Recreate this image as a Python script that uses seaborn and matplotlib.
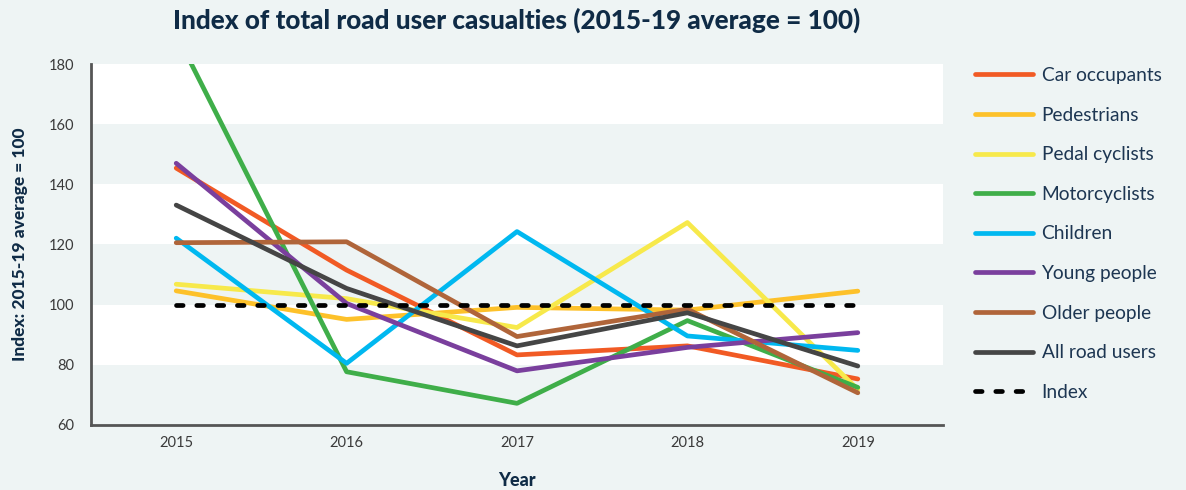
import matplotlib
matplotlib.use("Agg")
import matplotlib.pyplot as plt
import pandas as pd
import seaborn as sns

# Index values (2015-19 average = 100)
years = [2015, 2016, 2017, 2018, 2019]
car_occupants = [145.4, 111.5, 83.3, 86.3, 75.3]
pedestrians = [104.6, 95.1, 99.1, 98.2, 104.5]
pedal_cyclists = [106.8, 102.0, 92.4, 127.3, 71.8]
motorcyclists = [190.0, 77.7, 67.2, 94.7, 72.5]
children = [122.1, 80.5, 124.3, 89.6, 84.8]
young_people = [147.0, 100.4, 78.0, 85.8, 90.7]
older_people = [120.6, 120.9, 89.4, 98.5, 70.7]
all_road_users = [133.1, 105.4, 86.3, 97.3, 79.6]
index_line = [100, 100, 100, 100, 100]

series_names = ["Car occupants", "Pedestrians", "Pedal cyclists", "Motorcyclists",
                "Children", "Young people", "Older people", "All road users", "Index"]
series_values = [car_occupants, pedestrians, pedal_cyclists, motorcyclists,
                 children, young_people, older_people, all_road_users, index_line]
colors = ["#f15a24", "#fdc12a", "#f7e94b", "#3fae49", "#00b8f0",
          "#7a3f9d", "#b0653a", "#454545", "#000000"]

yticks = [60, 80, 100, 120, 140, 160, 180]

BG = "#eef4f4"
NAVY = "#0f2b46"
TEXT = "#1d3652"

sns.set_theme(style="white")
plt.rcParams["font.family"] = ["Lato", "DejaVu Sans"]

df = pd.DataFrame({
    "Year": [y for _ in series_names for y in years],
    "Value": [v for vals in series_values for v in vals],
    "Series": [n for n in series_names for _ in years],
})

fig = plt.figure(figsize=(11.86, 4.90), dpi=100, facecolor=BG)
ax = fig.add_axes([91 / 1186, 1 - 425 / 490, (943 - 91) / 1186, (425 - 64) / 490])
ax.set_facecolor(BG)

# alternating white bands
for lo in (80, 120, 160):
    ax.axhspan(lo, lo + 20, color="white", zorder=0, lw=0)

palette = dict(zip(series_names, colors))
sns.lineplot(data=df, x="Year", y="Value", hue="Series", palette=palette,
             hue_order=series_names, linewidth=3.4, legend=False, ax=ax,
             estimator=None, sort=False)

for line, name in zip(ax.get_lines(), series_names):
    line.set_solid_capstyle("round")
    line.set_solid_joinstyle("round")
    line.set_zorder(3)
    if name == "Index":
        line.set_linestyle((0, (1.4, 2.9)))
        line.set_dash_capstyle("round")
        line.set_zorder(4)

ax.set_xlim(2014.5, 2019.5)
ax.set_ylim(60, 180)

ax.set_yticks(yticks)
ax.set_xticks(years)
ax.set_xticks([2015.5, 2016.5, 2017.5, 2018.5, 2019.5], minor=True)
ax.tick_params(axis="x", which="major", length=0, pad=8, labelsize=10.5, labelcolor="#3a3a3a")
ax.tick_params(axis="x", which="minor", length=7, width=1.5, color="#555555", direction="out")
ax.tick_params(axis="y", length=8, width=1.5, color="#555555", direction="out",
               labelsize=10.5, labelcolor="#3a3a3a", pad=4)

for side in ("top", "right"):
    ax.spines[side].set_visible(False)
for side in ("left", "bottom"):
    ax.spines[side].set_color("#555555")
    ax.spines[side].set_linewidth(2)

ax.set_xlabel("Year", fontsize=13, fontweight="black", color=NAVY, labelpad=16)
ax.set_ylabel("Index: 2015-19 average = 100", fontsize=12.5, fontweight="black",
              color=NAVY, labelpad=15)

fig.text(517 / 1186, 1 - 20 / 490, "Index of total road user casualties (2015-19 average = 100)",
         ha="center", va="center", fontsize=18.8, fontweight="black", color=NAVY)

handles = [plt.Line2D([], [], color=c, lw=3.4, solid_capstyle="round",
                      linestyle=((0, (1.4, 2.9)) if n == "Index" else "-"),
                      dash_capstyle="round")
           for n, c in zip(series_names, colors)]
leg = fig.legend(handles, series_names, loc="upper left",
                 bbox_to_anchor=(975 / 1186, 1 - 67 / 490), frameon=False,
                 fontsize=13.8, handlelength=3.0, handletextpad=0.47,
                 labelspacing=1.18, borderaxespad=0, borderpad=0)
for t in leg.get_texts():
    t.set_color(TEXT)

fig.savefig("out.png", dpi=100, facecolor=BG)
